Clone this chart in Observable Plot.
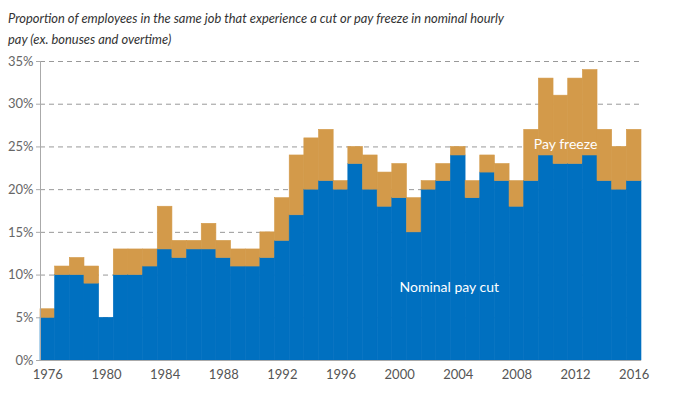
<!DOCTYPE html>
<html>
<head>
<meta charset="utf-8">
<script src="https://cdn.jsdelivr.net/npm/d3@7"></script>
<script src="https://cdn.jsdelivr.net/npm/@observablehq/plot@0.6"></script>
<style>
  body { margin: 0; background: #fff; font-family: Lato, "Open Sans", sans-serif; }
  #title { height: 50px; box-sizing: border-box; padding: 8px 0 0 8px; font-style: italic; font-size: 12.9px; line-height: 21px; color: #333; }
  svg { display: block; }
</style>
</head>
<body>
<div id="title">Proportion of employees in the same job that experience a cut or pay freeze in nominal hourly<br>pay (ex. bonuses and overtime)</div>
<div id="chart"></div>
<script>
const years = d3.range(1976, 2017);
const payCut = [5,10,10,9,5,10,10,11,13,12,13,13,12,11,11,12,14,17,20,21,20,23,20,18,19,15,20,21,24,19,22,21,18,21,24,23,23,24,21,20,21];
const total  = [6,11,12,11,5,13,13,13,18,14,14,16,14,13,13,15,19,24,26,27,21,25,24,22,23,19,21,23,25,21,24,23,21,27,33,31,33,34,27,25,27];
const seriesNames = ["Nominal pay cut", "Pay freeze"];
const yTicks = [0, 5, 10, 15, 20, 25, 30, 35];
const xTicks = [1976, 1980, 1984, 1988, 1992, 1996, 2000, 2004, 2008, 2012, 2016];
const labelTexts = ["Nominal pay cut", "Pay freeze"];

const rows = [];
years.forEach((y, i) => {
  rows.push({year: y, series: seriesNames[0], value: payCut[i]});
  rows.push({year: y, series: seriesNames[1], value: total[i] - payCut[i]});
});

const chart = Plot.plot({
  width: 681,
  height: 347,
  marginLeft: 40,
  marginRight: 40,
  marginTop: 11,
  marginBottom: 37,
  style: {fontFamily: "Lato, 'Open Sans', sans-serif", fontSize: "13px", color: "#666"},
  x: {type: "band", domain: years, padding: 0, round: false, label: null},
  y: {domain: [0, 35], label: null},
  color: {domain: seriesNames, range: ["#0070C0", "#D39A4A"]},
  marks: [
    Plot.gridY(yTicks.slice(1), {stroke: "#999", strokeOpacity: 1, strokeDasharray: "5,4", strokeWidth: 1}),
    Plot.barY(rows, {x: "year", y: "value", fill: "series", stroke: "series", strokeWidth: 0.6, inset: 0, order: seriesNames}),
    Plot.frame({anchor: "left", stroke: "#aaa"}),
    Plot.axisY({ticks: yTicks, tickFormat: d => d + "%", tickSize: 4, tickPadding: 3, stroke: "#aaa", fill: "#666", fontSize: 13}),
    Plot.axisX({ticks: xTicks, tickFormat: d => String(d), tickSize: 0, tickPadding: 9, fill: "#555", fontSize: 13}),
    Plot.ruleY([0], {stroke: "#aaa"}),
    Plot.text([labelTexts[0]], {x: 2004, y: 8.5, text: d => d, fill: "white", fontSize: 14, textAnchor: "middle", dx: -9}),
    Plot.text([labelTexts[1]], {x: 2012, y: 25.3, text: d => d, fill: "white", fontSize: 14, textAnchor: "middle", dx: -10})
  ]
});
document.getElementById("chart").appendChild(chart);
</script>
</body>
</html>
